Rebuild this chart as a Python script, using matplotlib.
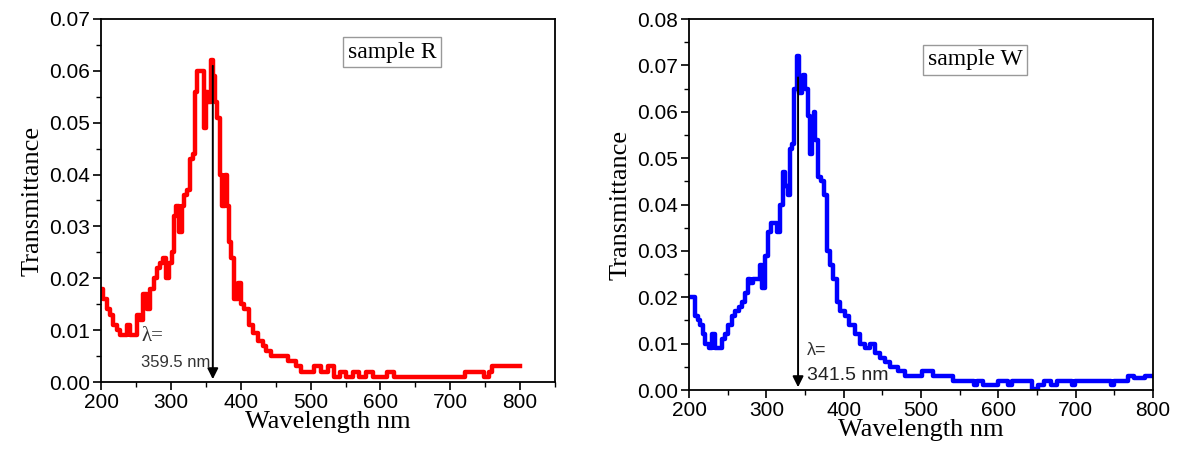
import matplotlib.pyplot as plt
from matplotlib.ticker import MultipleLocator

# sample R
wl_r = [200, 206, 210, 215, 220, 225, 230, 235, 239, 244, 249, 253, 258, 263, 268, 273,
        278, 283, 287, 291, 295, 299, 303, 307, 309, 314, 317, 321, 326, 330, 333, 336,
        340, 345, 349, 351, 355, 359.5, 362, 365, 368, 372, 375, 379, 381, 384, 388, 393,
        398, 403, 407, 410, 414, 421, 429, 434, 438, 448, 462, 474, 483, 490, 500, 510,
        520, 530, 538, 545, 555, 565, 575, 585, 595, 605, 615, 625, 650, 680, 700, 717,
        724, 735, 745, 752, 758, 762, 780, 800]
tr_r = [0.018, 0.016, 0.014, 0.013, 0.011, 0.010, 0.009, 0.009, 0.011, 0.009, 0.009, 0.013,
        0.012, 0.017, 0.014, 0.018, 0.020, 0.022, 0.023, 0.024, 0.020, 0.023, 0.025, 0.032,
        0.034, 0.029, 0.034, 0.036, 0.037, 0.043, 0.044, 0.056, 0.060, 0.060, 0.049, 0.056,
        0.054, 0.062, 0.059, 0.054, 0.051, 0.040, 0.034, 0.040, 0.034, 0.027, 0.024, 0.016,
        0.019, 0.015, 0.014, 0.014, 0.011, 0.0095, 0.008, 0.007, 0.006, 0.005, 0.005, 0.004,
        0.003, 0.002, 0.002, 0.003, 0.002, 0.003, 0.001, 0.002, 0.001, 0.002, 0.001, 0.002,
        0.001, 0.001, 0.002, 0.001, 0.001, 0.001, 0.001, 0.001,
        0.002, 0.002, 0.002, 0.001, 0.002, 0.003, 0.003, 0.003]

# sample W
wl_w = [200, 207, 209, 213, 216, 219, 223, 228, 232, 236, 241, 245, 249, 253, 258, 262,
        266, 270, 275, 278, 281, 285, 290, 293, 297, 300, 305, 308, 312, 315, 320, 323,
        326, 329, 332, 335, 337, 341, 344, 347, 349, 352, 355, 357, 360, 362, 365, 369,
        373, 377, 380, 384, 389, 393, 397, 400, 404, 411, 417, 424, 430, 437, 443, 450,
        456, 465, 476, 483, 493, 509, 521, 540, 542, 568, 570, 575, 585, 598, 600, 610,
        615, 620, 640, 648, 655, 663, 672, 680, 693, 697, 702, 745, 747, 753, 766, 770,
        780, 800]
tr_w = [0.020, 0.020, 0.016, 0.015, 0.014, 0.012, 0.010, 0.009, 0.012, 0.009, 0.009, 0.011,
        0.012, 0.014, 0.016, 0.017, 0.018, 0.019, 0.021, 0.024, 0.023, 0.024, 0.024, 0.027,
        0.022, 0.029, 0.034, 0.036, 0.036, 0.034, 0.040, 0.047, 0.044, 0.042, 0.052, 0.053,
        0.065, 0.072, 0.064, 0.066, 0.068, 0.065, 0.059, 0.051, 0.058, 0.060, 0.054, 0.046,
        0.045, 0.042, 0.030, 0.027, 0.024, 0.019, 0.017, 0.017, 0.016, 0.014, 0.012, 0.010,
        0.009, 0.010, 0.008, 0.007, 0.006, 0.005, 0.004, 0.003, 0.003, 0.004, 0.003, 0.003,
        0.002, 0.002, 0.001, 0.002, 0.001, 0.001, 0.002, 0.002,
        0.001, 0.002, 0.002, 0.0002, 0.001, 0.002, 0.001, 0.002, 0.002, 0.001, 0.002, 0.002,
        0.001, 0.002, 0.002, 0.003, 0.0025, 0.003]

fig = plt.figure(figsize=(11.79, 4.5), dpi=100)
ax1 = fig.add_axes([0.0857, 0.1511, 0.3851, 0.8067])
ax2 = fig.add_axes([0.5844, 0.1333, 0.3936, 0.8244])

serif = 'Liberation Serif'
sans = 'Liberation Sans'


def style_axes(ax, xmax, ymax):
    ax.set_xlim(200, xmax)
    ax.set_ylim(0, ymax)
    ax.xaxis.set_major_locator(MultipleLocator(100))
    ax.xaxis.set_minor_locator(MultipleLocator(50))
    ax.yaxis.set_major_locator(MultipleLocator(0.01))
    ax.yaxis.set_minor_locator(MultipleLocator(0.005))
    ax.yaxis.set_major_formatter(plt.FormatStrFormatter('%.2f'))
    ax.tick_params(which='major', direction='out', length=6, width=1.2, pad=2)
    ax.tick_params(which='minor', direction='out', length=3.5, width=1.0)
    for lab in ax.get_xticklabels() + ax.get_yticklabels():
        lab.set_fontfamily(sans)
        lab.set_fontsize(15)
    for s in ax.spines.values():
        s.set_linewidth(1.3)
    ax.set_xlabel('Wavelength nm', family=serif, fontsize=19, labelpad=-1)
    ax.set_ylabel('Transmittance', family=serif, fontsize=19, labelpad=4)


# sample R
ax1.plot(wl_r, tr_r, color='#ff0000', lw=3.2, drawstyle='steps-mid')
style_axes(ax1, 850, 0.07)
ax1.annotate('', xy=(360, 0.0), xytext=(360, 0.0615),
             arrowprops=dict(arrowstyle='-|>', color='black', lw=1.4, mutation_scale=16))
ax1.text(258, 0.0087, 'λ=', family=serif, fontsize=15, va='center', ha='left', color='#333333')
ax1.text(257, 0.0037, '359.5 nm', family=sans, fontsize=12, va='center', ha='left',
         color='#333333')
ax1.text(617, 0.0636, 'sample R', family=serif, fontsize=17, ha='center', va='center',
         bbox=dict(boxstyle='square,pad=0.2', fc='white', ec='#999999', lw=1))

# sample W
ax2.plot(wl_w, tr_w, color='#0000ff', lw=3.2, drawstyle='steps-mid')
style_axes(ax2, 800, 0.08)
ax2.annotate('', xy=(341, 0.0), xytext=(341, 0.068),
             arrowprops=dict(arrowstyle='-|>', color='black', lw=1.4, mutation_scale=16))
ax2.text(353, 0.0086, 'λ=', family=sans, fontsize=13, va='center', ha='left',
         color='#333333')
ax2.text(353, 0.0032, '341.5 nm', family=sans, fontsize=14, va='center', ha='left',
         color='#222222')
ax2.text(570, 0.0712, 'sample W', family=serif, fontsize=17, ha='center', va='center',
         bbox=dict(boxstyle='square,pad=0.2', fc='white', ec='#999999', lw=1))

plt.savefig('out.png', dpi=100)
